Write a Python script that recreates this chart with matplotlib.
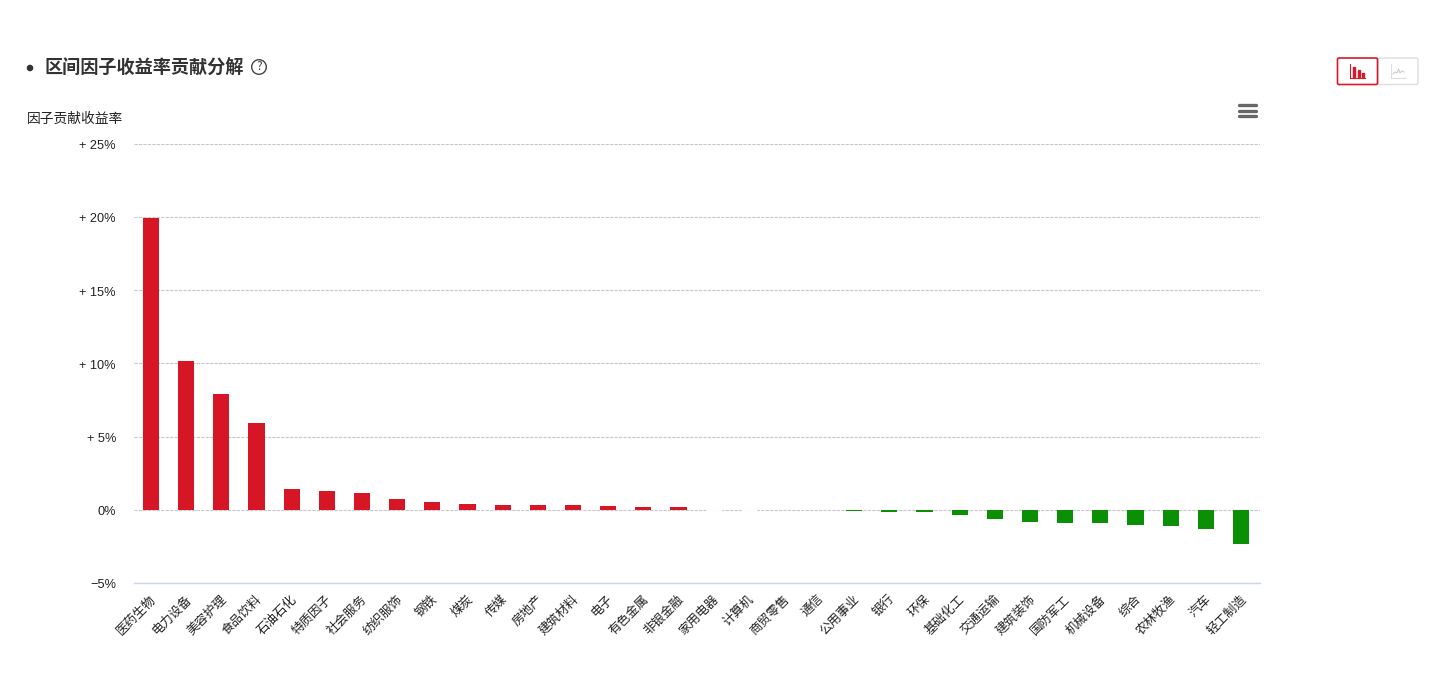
# -*- coding: utf-8 -*-
import matplotlib
matplotlib.use("Agg")
import matplotlib.pyplot as plt
from matplotlib.patches import Circle, FancyBboxPatch, Rectangle
from matplotlib.transforms import ScaledTranslation

plt.rcParams['font.family'] = ['Noto Sans CJK SC', 'DejaVu Sans']

# Datos
categorias = ["医药生物", "电力设备", "美容护理", "食品饮料", "石油石化", "特质因子", "社会服务", "纺织服饰",
              "钢铁", "煤炭", "传媒", "房地产", "建筑材料", "电子", "有色金属", "非银金融",
              "家用电器", "计算机", "商贸零售", "通信", "公用事业", "银行", "环保", "基础化工",
              "交通运输", "建筑装饰", "国防军工", "机械设备", "综合", "农林牧渔", "汽车", "轻工制造"]
valores = [19.9, 10.15, 7.9, 5.93, 1.42, 1.27, 1.12, 0.72,
           0.52, 0.42, 0.35, 0.35, 0.35, 0.27, 0.2, 0.17,
           0.01, 0.01, 0, 0, -0.09, -0.18, -0.18, -0.34,
           -0.64, -0.82, -0.89, -0.89, -1.02, -1.11, -1.34, -2.34]
ticks_y = [-5, 0, 5, 10, 15, 20, 25]
etiquetas_y = ["−5%", "0%", "+ 5%", "+ 10%", "+ 15%", "+ 20%", "+ 25%"]

ROJO = "#d61624"
VERDE = "#0a8f05"
W, H = 1440, 673

fig = plt.figure(figsize=(W / 100, H / 100), dpi=100, facecolor="white")

# Ejes principales, posicion en pixeles de la imagen
x0, x1, y_top, y_bot = 134, 1260, 143.5, 583
ax = fig.add_axes([x0 / W, 1 - y_bot / H, (x1 - x0) / W, (y_bot - y_top) / H])

colores = [ROJO if v >= 0 else VERDE for v in valores]
# las barras casi nulas solo dejan el hueco blanco sobre la grilla
bordes = ["white" if 0 < abs(v) < 0.05 else "none" for v in valores]
posiciones = range(len(categorias))
ax.bar(posiciones, valores, width=0.46, color=colores, edgecolor=bordes, linewidth=1.0, zorder=3)

ax.set_xlim(-0.4835, 31.54)
ax.set_ylim(-5, 25)
ax.set_yticks(ticks_y)
ax.set_yticklabels(etiquetas_y, fontsize=9.2, color="#222222", family=["Liberation Sans", "DejaVu Sans"])
ax.set_xticks(list(posiciones))
ax.set_xticklabels(categorias, rotation=45, ha="right", va="top", rotation_mode="anchor",
                   fontsize=9.0, color="#222222")
ax.tick_params(axis="y", length=0, pad=13)
ax.tick_params(axis="x", length=0, pad=7)

# pequeno ajuste de las etiquetas, en pixeles
desplaza_x = ScaledTranslation(-1.5 / 100, 0, fig.dpi_scale_trans)
for etiqueta in ax.get_xticklabels():
    etiqueta.set_transform(etiqueta.get_transform() + desplaza_x)
desplaza_y = ScaledTranslation(0, -1 / 100, fig.dpi_scale_trans)
for etiqueta in ax.get_yticklabels():
    etiqueta.set_transform(etiqueta.get_transform() + desplaza_y)

ax.grid(axis="y", color="#c8c8cc", linestyle=(0, (3, 1)), linewidth=0.8, zorder=1)
for lado in ["top", "left", "right"]:
    ax.spines[lado].set_visible(False)
ax.spines["bottom"].set_color("#ccd6eb")
ax.spines["bottom"].set_linewidth(1.0)

# Capa superior en pixeles para titulo y botones
capa = fig.add_axes([0, 0, 1, 1], facecolor="none")
capa.set_xlim(0, W)
capa.set_ylim(H, 0)
capa.axis("off")

capa.add_patch(Circle((30, 68), 2.6, color="#333333"))
capa.text(45, 68, "区间因子收益率贡献分解", fontsize=13.1, fontweight="bold", color="#333333", va="center")
capa.add_patch(Circle((259, 67), 7.3, facecolor="white", edgecolor="#444444", linewidth=1.0))
capa.text(259, 67, "?", fontsize=8.5, color="#444444", ha="center", va="center")
capa.text(27, 119, "因子贡献收益率", fontsize=9.9, color="#222222", va="center")

# Menu de exportar
for y in [105, 110.8, 116.4]:
    capa.plot([1239, 1255.5], [y, y], color="#666666", lw=2.4, solid_capstyle="round")

# Botones de barra / linea
capa.add_patch(FancyBboxPatch((1378, 58), 40, 26.5, boxstyle="round,pad=0,rounding_size=1.5",
                              facecolor="white", edgecolor="#dddddd", linewidth=1.0))
capa.add_patch(FancyBboxPatch((1337.5, 58), 40, 26.5, boxstyle="round,pad=0,rounding_size=1.5",
                              facecolor="white", edgecolor="#d9182a", linewidth=1.2))
capa.plot([1350, 1350, 1365], [64, 77.5, 77.5], color="#d9182a", lw=0.8)
for bx, bh in [(1353, 10), (1357.5, 7), (1361.5, 3.5)]:
    capa.add_patch(Rectangle((bx, 76.5 - bh), 2, bh, color="#d9182a"))
capa.plot([1390.5, 1390.5, 1405], [64, 77.5, 77.5], color="#dddddd", lw=0.8)
capa.plot([1393, 1395, 1397, 1398.5, 1400, 1402, 1404], [74, 72, 73, 69, 73, 71, 72], color="#cccccc", lw=0.8)

fig.savefig("out.png", dpi=100)
